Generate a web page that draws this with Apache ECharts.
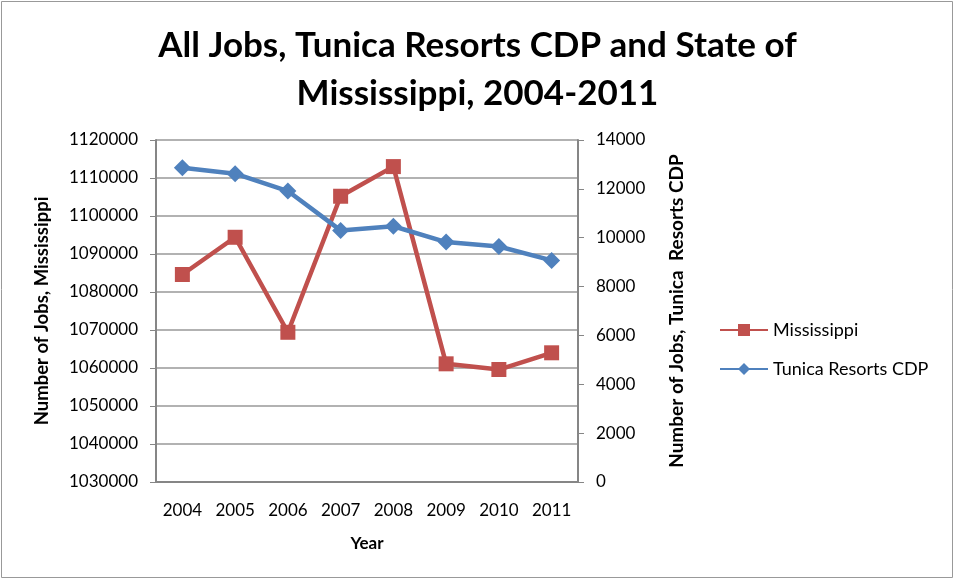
<!DOCTYPE html>
<html>
<head>
<meta charset="utf-8">
<script src="https://cdn.jsdelivr.net/npm/echarts@6/dist/echarts.min.js"></script>
<style>
  html, body { margin: 0; padding: 0; background: #fff; }
  #chart { width: 955px; height: 580px; }
</style>
</head>
<body>
<div id="chart"></div>
<script>
// Annual job counts, 2004-2011
const years = ['2004', '2005', '2006', '2007', '2008', '2009', '2010', '2011'];
const mississippiJobs = [1084600, 1094400, 1069400, 1105200, 1113000, 1061100, 1059600, 1064000];
const tunicaJobs = [12860, 12620, 11910, 10300, 10470, 9820, 9640, 9070];

const FONT = 'Lato, "Open Sans", sans-serif';
const RED = '#C0504D';
const BLUE = '#4F81BD';
const AXIS_GRAY = '#868686';

// plain integers, no thousands separators
const plain = v => String(v);

const chart = echarts.init(document.getElementById('chart'), null, { renderer: 'canvas' });

chart.setOption({
  backgroundColor: '#fff',
  animation: false,
  textStyle: { fontFamily: FONT, color: '#000' },
  title: {
    text: 'All Jobs, Tunica Resorts CDP and State of\nMississippi, 2004-2011',
    left: 'center',
    top: 17,
    textStyle: { fontFamily: FONT, fontSize: 35, fontWeight: 'bold', lineHeight: 48, color: '#000' }
  },
  graphic: [{
    type: 'rect',
    shape: { x: 1.5, y: 1.5, width: 951, height: 576 },
    style: { fill: 'none', stroke: '#999', lineWidth: 1 },
    silent: true
  }],
  legend: {
    orient: 'vertical',
    left: 714,
    top: 316,
    itemGap: 21,
    itemWidth: 48,
    itemHeight: 15,
    textStyle: { fontFamily: FONT, fontSize: 18, color: '#000', padding: [0, 0, 0, 0] },
    data: ['Mississippi', 'Tunica Resorts CDP']
  },
  grid: { left: 156, right: 377, top: 140, bottom: 98, containLabel: false },
  xAxis: {
    type: 'category',
    data: years,
    boundaryGap: true,
    name: 'Year',
    nameLocation: 'middle',
    nameGap: 53,
    nameTextStyle: { fontFamily: FONT, fontSize: 17, fontWeight: 'bold', color: '#000' },
    axisLine: { lineStyle: { color: AXIS_GRAY, width: 2 } },
    axisTick: { show: false },
    axisLabel: { fontFamily: FONT, fontSize: 17, color: '#000', margin: 20 }
  },
  yAxis: [{
    type: 'value',
    min: 1030000,
    max: 1120000,
    interval: 10000,
    position: 'left',
    name: 'Number of Jobs, Mississippi',
    nameLocation: 'middle',
    nameGap: 104,
    nameRotate: 90,
    nameTextStyle: { fontFamily: FONT, fontSize: 18.5, fontWeight: 'bold', color: '#000' },
    axisLine: { show: true, lineStyle: { color: AXIS_GRAY, width: 2 } },
    axisTick: { show: true, length: 6, lineStyle: { color: AXIS_GRAY } },
    axisLabel: { fontFamily: FONT, fontSize: 17, color: '#000', margin: 18, formatter: plain },
    splitLine: { show: true, lineStyle: { color: '#999', width: 1.5 } }
  }, {
    type: 'value',
    min: 0,
    max: 14000,
    interval: 2000,
    position: 'right',
    name: 'Number of Jobs, Tunica  Resorts CDP',
    nameLocation: 'middle',
    nameGap: 89,
    nameRotate: 90,
    nameTextStyle: { fontFamily: FONT, fontSize: 19, fontWeight: 'bold', color: '#000' },
    axisLine: { show: true, lineStyle: { color: AXIS_GRAY, width: 2 } },
    axisTick: { show: true, length: 6, lineStyle: { color: AXIS_GRAY } },
    axisLabel: { fontFamily: FONT, fontSize: 17, color: '#000', margin: 18, formatter: plain },
    splitLine: { show: false }
  }],
  series: [{
    name: 'Mississippi',
    type: 'line',
    yAxisIndex: 0,
    data: mississippiJobs,
    symbol: 'rect',
    symbolSize: 15,
    lineStyle: { color: RED, width: 4.5 },
    itemStyle: { color: RED },
    z: 2
  }, {
    name: 'Tunica Resorts CDP',
    type: 'line',
    yAxisIndex: 1,
    data: tunicaJobs,
    symbol: 'diamond',
    symbolSize: 17,
    lineStyle: { color: BLUE, width: 4.5 },
    itemStyle: { color: BLUE },
    z: 3
  }]
});
</script>
</body>
</html>
